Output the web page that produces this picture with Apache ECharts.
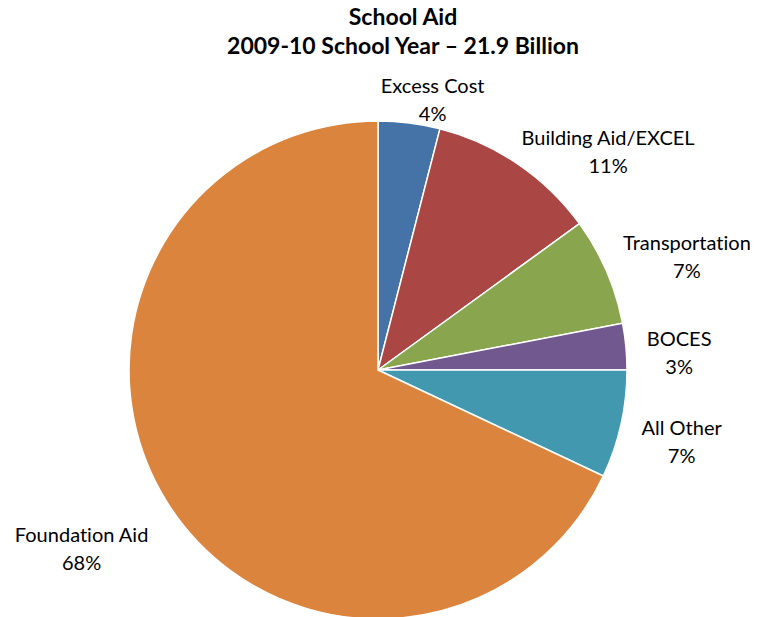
<!DOCTYPE html>
<html>
<head>
<meta charset="utf-8">
<script src="https://cdn.jsdelivr.net/npm/echarts@6/dist/echarts.min.js"></script>
<style>
  html, body { margin: 0; padding: 0; background: #fff; }
  #chart { width: 770px; height: 617px; }
  /* keep "ti" and "fi" as separate letters */
  #chart text { font-variant-ligatures: none; }
</style>
</head>
<body>
<div id="chart"></div>
<script>
// School aid categories, clockwise from 12 o'clock
const categories = ['Excess Cost', 'Building Aid/EXCEL', 'Transportation', 'BOCES', 'All Other', 'Foundation Aid'];
// Share of total aid, percent
const shares = [4, 11, 7, 3, 7, 68];
const sliceColors = ['#4572A7', '#AA4643', '#89A54E', '#71588F', '#4198AF', '#DB843D'];
// Small per-label offsets (px) applied after the library's outside placement
const labelNudge = [[-36, -4], [-13, 3], [-7, -7], [-4, 7], [-4, 12], [3, 34]];

const chart = echarts.init(document.getElementById('chart'), null, { renderer: 'svg' });
const FONT = 'Lato, "Open Sans", sans-serif';

chart.setOption({
  animation: false,
  backgroundColor: '#fff',
  title: {
    text: 'School Aid\n2009-10 School Year \u2013 21.9 Billion',
    left: 398,
    top: -4,
    textAlign: 'center',
    textStyle: {
      fontFamily: FONT,
      fontWeight: 'bold',
      fontSize: 23,
      lineHeight: 29,
      color: '#000'
    }
  },
  series: [{
    type: 'pie',
    center: [378, 370],
    radius: 249,
    startAngle: 90,
    clockwise: true,
    avoidLabelOverlap: false,
    itemStyle: { borderColor: '#fff', borderWidth: 1.5 },
    label: {
      show: true,
      position: 'outside',
      formatter: p => p.name + '\n' + Math.round(p.percent) + '%',
      fontFamily: FONT,
      fontSize: 20,
      lineHeight: 28,
      color: '#000'
    },
    labelLine: { show: false, length: 20, length2: 0 },
    labelLayout: params => {
      const r = params.labelRect;
      const n = labelNudge[params.dataIndex];
      return {
        x: r.x + r.width / 2 + n[0],
        y: r.y + r.height / 2 + n[1],
        align: 'center',
        verticalAlign: 'middle'
      };
    },
    data: categories.map((name, i) => ({
      name,
      value: shares[i],
      itemStyle: { color: sliceColors[i] }
    }))
  }]
});
</script>
</body>
</html>
